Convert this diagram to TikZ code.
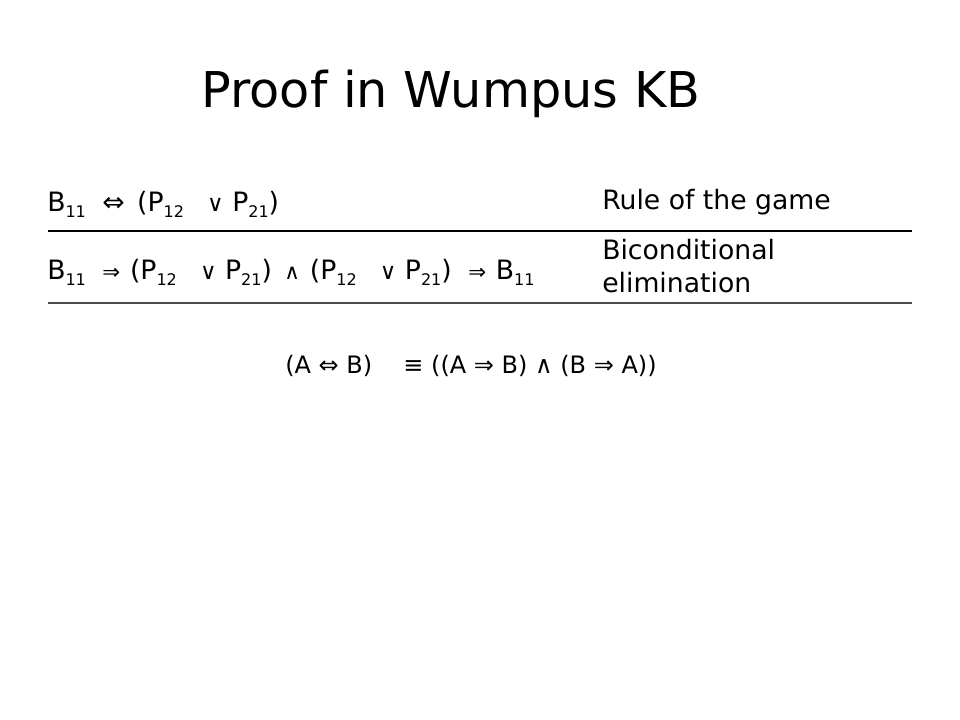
\documentclass[tikz,border=0pt]{standalone}
\usepackage{fontspec}
\setmainfont{DejaVu Sans}
\newcommand\sbs[1]{\raisebox{-0.35ex}{\fontsize{12}{12}\selectfont #1}}
\newcommand\opiff{\ \hspace{0.3em}⇔\hspace{0.15em}\ }
\newcommand\opimp{\ \hspace{0.3em}{\fontsize{16}{16}\selectfont ⇒}\hspace{0.05em}\ }
\newcommand\opor{\ \hspace{0.55em}{\fontsize{17}{17}\selectfont ∨}\ }
\newcommand\opand{\ \hspace{0.15em}{\fontsize{16}{16}\selectfont ∧}\hspace{0.05em}\ }
\begin{document}
\begin{tikzpicture}[x=0.75pt,y=-0.75pt,
  txt/.style={anchor=base west,inner sep=0pt,font=\fontsize{20}{24}\selectfont},
  rule/.style={line width=0.9pt}]
\useasboundingbox[fill=white] (0,0) rectangle (960,720);
\node[anchor=base,inner sep=0pt,font=\fontsize{37}{42}\selectfont] (title) at (451,108) {Proof in Wumpus KB};
\node[txt] (r1) at (47,212) {B\sbs{11}\opiff(P\sbs{12}\opor P\sbs{21})};
\node[txt] (j1) at (602,210) {Rule of the game};
\coordinate (l1a) at (48,231);
\coordinate (l1b) at (912,231);
\draw[rule] (l1a) -- (l1b);
\node[txt] (r2) at (47,280) {B\sbs{11}\opimp(P\sbs{12}\opor P\sbs{21})\opand(P\sbs{12}\opor P\sbs{21})\opimp B\sbs{11}};
\node[txt] (j2a) at (602,260) {Biconditional};
\node[txt] (j2b) at (602,292) {elimination};
\coordinate (l2a) at (48,303);
\coordinate (l2b) at (912,303);
\draw[rule,draw=black!70] (l2a) -- (l2b);
\node[txt,font=\fontsize{18}{22}\selectfont] (eq) at (285,373) {(A ⇔ B)\hspace{1.3em}≡ ((A ⇒ B) ∧ (B ⇒ A))};
\end{tikzpicture}
\end{document}
